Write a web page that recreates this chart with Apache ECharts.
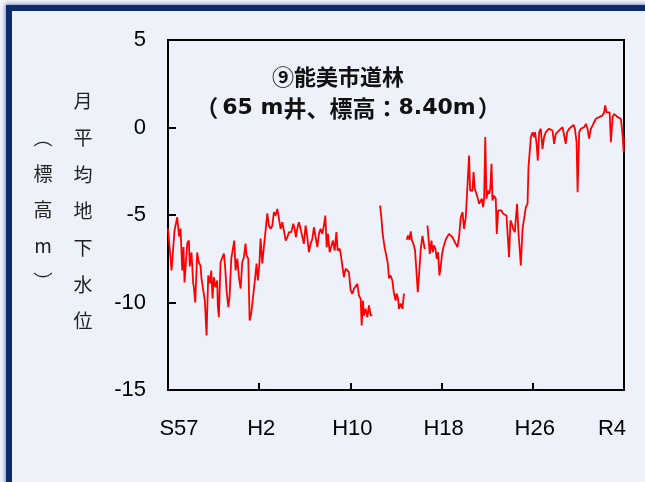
<!DOCTYPE html>
<html>
<head>
<meta charset="utf-8">
<script src="https://cdn.jsdelivr.net/npm/echarts@6/dist/echarts.min.js"></script>
<style>
  html, body { margin: 0; padding: 0; background: #f2f4fa; overflow: hidden; }
  #frame {
    position: absolute; left: 6px; top: 5px; width: 700px; height: 600px;
    border-left: 6px solid #0c2a6c; border-top: 6px solid #0c2a6c;
    background: #edf1fa;
    box-shadow: -1px -1px 4px rgba(30, 50, 140, 0.55);
  }
  #chart { position: absolute; left: 0; top: 0; width: 645px; height: 482px; }
</style>
</head>
<body>
<div id="frame"></div>
<div id="chart"></div>
<script>
// Monthly mean groundwater level, Nomi-shi Dorin well (decimal year, elevation m)
const years = [
  1982.00,1982.31,1982.57,1982.81,1982.97,1983.10,1983.25,1983.36,1983.45,1983.69,
  1983.83,1983.91,1984.06,1984.21,1984.27,1984.39,1984.56,1984.70,1984.85,1984.94,
  1985.09,1985.23,1985.38,1985.53,1985.67,1985.79,1985.91,1986.02,1986.17,1986.32,
  1986.37,1986.46,1986.61,1986.78,1986.90,1987.02,1987.14,1987.29,1987.40,1987.55,
  1987.72,1987.81,1987.93,1988.08,1988.22,1988.37,1988.51,1988.66,1988.80,1988.89,
  1989.04,1989.16,1989.30,1989.45,1989.62,1989.77,1989.88,1990.01,1990.12,1990.27,
  1990.41,1990.56,1990.71,1990.85,1991.00,1991.15,1991.29,1991.44,1991.59,1991.73,
  1991.88,1992.03,1992.17,1992.32,1992.47,1992.61,1992.82,1992.99,1993.11,1993.22,
  1993.34,1993.48,1993.63,1993.78,1993.92,1994.07,1994.22,1994.36,1994.51,1994.66,
  1994.80,1994.95,1995.10,1995.24,1995.39,1995.54,1995.68,1995.80,1995.92,1996.03,
  1996.18,1996.33,1996.47,1996.62,1996.77,1996.88,1997.06,1997.15,1997.29,1997.43,
  1997.58,1997.73,1997.87,1998.02,1998.17,1998.31,1998.46,1998.61,1998.75,1998.90,
  1998.99,1999.10,1999.19,1999.34,1999.49,1999.63,1999.78,1999.93,
  2000.30,
  2000.60,2000.70,2000.83,2001.01,2001.14,2001.27,2001.39,2001.53,2001.68,2001.82,
  2001.97,2002.06,2002.18,2002.26,2002.41,2002.56,2002.70,
  2002.82,
  2002.94,2003.05,2003.18,2003.29,2003.40,2003.53,2003.67,2003.79,2003.91,2004.02,
  2004.17,2004.32,2004.52,
  2004.64,
  2004.76,2004.87,2004.96,2005.11,2005.22,2005.34,2005.46,2005.57,2005.69,2005.81,
  2005.92,2006.04,2006.16,2006.28,2006.39,2006.51,2006.65,2006.80,2006.95,2007.09,
  2007.24,2007.39,2007.53,2007.68,2007.83,2007.97,2008.12,2008.27,2008.41,2008.50,
  2008.62,2008.71,2008.80,2008.91,2009.02,2009.15,2009.29,2009.44,2009.52,2009.64,
  2009.73,2009.83,2009.94,2010.05,2010.17,2010.27,2010.38,2010.46,2010.60,2010.75,
  2010.84,2010.96,2011.10,2011.25,2011.39,2011.54,2011.69,2011.81,2011.92,2012.04,
  2012.16,2012.27,2012.42,2012.51,2012.62,2012.75,2012.86,2012.95,2013.10,2013.24,
  2013.39,2013.54,2013.62,2013.74,2013.83,2013.98,2014.12,2014.20,2014.33,2014.44,
  2014.56,2014.70,2014.85,2014.99,2015.14,2015.29,2015.43,2015.58,2015.73,2015.87,
  2016.02,2016.17,2016.31,2016.46,2016.61,2016.75,2016.89,2017.01,2017.19,2017.34,
  2017.58,2017.69,2017.84,2017.93,2018.07,2018.22,2018.37,2018.51,2018.66,2018.80,
  2018.94,2019.09,2019.24,2019.38,2019.53,2019.68,2019.82,2019.97,2020.12,2020.26,
  2020.35,2020.47,2020.61,2020.74,2020.85,2021.00,2021.14,2021.29,2021.44,2021.58,
  2021.73,2021.88,2021.97,2021.99
];
const levels = [
  -5.77,-8.17,-5.89,-5.13,-6.23,-5.77,-8.17,-6.83,-8.86,-6.63,
  -6.46,-7.94,-7.14,-8.91,-9.14,-10.00,-7.14,-7.71,-7.89,-8.63,
  -8.63,-9.89,-11.89,-8.46,-8.91,-8.17,-9.77,-8.55,-9.14,-8.74,
  -10.17,-10.84,-7.70,-7.70,-7.20,-8.06,-9.31,-10.27,-9.70,-7.49,
  -7.49,-6.46,-8.17,-7.49,-8.55,-9.20,-7.70,-7.41,-6.63,-7.31,
  -7.49,-11.03,-10.63,-10.63,-8.74,-7.77,-8.74,-7.89,-6.34,-7.77,
  -6.84,-5.89,-4.90,-5.60,-5.79,-5.60,-4.84,-5.03,-4.65,-4.65,
  -5.79,-5.41,-5.89,-6.46,-6.27,-5.98,-5.98,-5.50,-5.79,-6.27,
  -5.79,-5.41,-5.79,-5.70,-6.65,-5.60,-6.27,-7.13,-6.65,-6.36,
  -5.70,-6.27,-6.84,-6.08,-5.79,-6.08,-5.60,-5.03,-6.84,-6.08,
  -7.13,-7.22,-6.46,-7.03,-5.98,-7.03,-6.93,-7.22,-7.89,-8.55,
  -8.07,-8.17,-8.27,-9.31,-9.50,-9.22,-9.22,-8.93,-9.60,-9.79,
  -11.31,-9.89,-10.74,-10.36,-10.84,-10.17,-10.74,-10.74,
  null,
  -4.46,-5.03,-6.08,-6.89,-6.89,-7.71,-8.62,-8.46,-8.74,-9.49,
  -9.89,-9.49,-9.77,-10.36,-10.06,-10.36,-9.49,
  null,
  -6.42,-6.17,-6.42,-5.93,-6.46,-6.65,-7.03,-8.17,-9.41,-8.46,
  -6.95,-6.19,-6.95,
  null,
  -5.60,-6.46,-7.22,-6.46,-7.13,-6.74,-6.93,-7.50,-7.13,-8.46,
  -7.98,-7.22,-6.84,-6.93,-6.36,-6.46,-6.08,-6.08,-6.27,-6.17,
  -6.65,-6.84,-6.27,-5.13,-4.84,-5.79,-5.13,-5.13,-1.60,-3.60,
  -3.50,-3.60,-2.55,-3.50,-3.70,-3.98,-4.36,-4.46,-4.07,-4.55,
  -4.07,-0.55,-4.07,-3.60,-3.79,-3.50,-2.07,-4.17,-3.89,-4.07,
  -6.08,-4.74,-4.65,-4.74,-4.93,-4.84,-5.03,-6.27,-7.41,-5.31,
  -5.50,-5.79,-5.98,-5.89,-4.36,-6.08,-7.03,-7.89,-5.79,-5.89,
  -4.55,-4.36,-2.27,-1.31,-0.55,-0.27,-0.55,-0.27,-0.93,-1.89,
  -0.27,-0.07,-1.22,-0.55,-0.27,-0.17,-0.07,-0.17,-0.17,-0.93,
  -0.36,-0.27,-0.17,-0.07,0.02,-0.07,-0.93,-0.27,-0.07,0.02,
  0.15,-0.07,-0.84,-3.70,-0.27,-0.07,-0.07,0.02,0.21,-0.07,
  -0.64,-0.07,0.11,0.30,0.50,0.40,0.59,0.50,0.69,0.87,
  1.26,0.87,0.97,0.87,-0.84,0.59,0.78,0.69,0.59,0.59,
  0.50,-0.46,-1.41,-0.55
];

// Axis ticks: years and their era labels
const xTickYears = [1982, 1990, 1998, 2006, 2014, 2022];
const xTickLabels = ['S57', 'H2', 'H10', 'H18', 'H26', 'R4'];
const yTicks = [-15, -10, -5, 0, 5];

const titleLine1 = '⑨能美市道林';
const titleLine2Parts = ['（', '65 m', '井、標高：', '8.40m', '）'];
const yNameInner = '月\n平\n均\n地\n下\n水\n位';
const yNameOuter = '︵\n標\n高\nm\n︶';

const seriesData = years.map((y, i) => [y, levels[i]]);

const chart = echarts.init(document.getElementById('chart'), null, { renderer: 'canvas' });

const cjk = '"Noto Sans CJK JP", "Noto Sans CJK SC", sans-serif';
const latin = '"Liberation Sans", Arial, sans-serif';
const wide = '"DejaVu Sans", sans-serif';

// second title line: brackets, CJK runs and number runs styled separately
const title2Rich = titleLine2Parts.map((p, i) => {
  if (i === 0) return '{lp|' + p + '}';
  if (i === titleLine2Parts.length - 1) return '{rp|' + p + '}';
  return (i % 2 === 1 ? '{n|' : '{c|') + p + '}';
}).join('');

chart.setOption({
  backgroundColor: 'transparent',
  animation: false,
  grid: {
    left: 168, top: 40, right: 21, bottom: 92,
    show: true, borderColor: '#000', borderWidth: 2, backgroundColor: 'transparent'
  },
  xAxis: {
    type: 'value',
    min: 1982, max: 2022, interval: 8,
    splitLine: { show: false },
    axisLine: { onZero: false, lineStyle: { color: '#000', width: 2 } },
    axisTick: { inside: true, length: 7, lineStyle: { color: '#000', width: 2 } },
    axisLabel: {
      margin: 28,
      color: '#000',
      fontFamily: latin,
      fontSize: 22,
      formatter: function (v) {
        const i = xTickYears.indexOf(Math.round(v));
        if (i < 0) return '';
        if (i === 0) return '{first|' + xTickLabels[i] + '}';
        if (i === xTickLabels.length - 1) return '{last|' + xTickLabels[i] + '}';
        return '{mid|' + xTickLabels[i] + '}';
      },
      rich: {
        first: { fontFamily: latin, fontSize: 22, color: '#000', padding: [0, 0, 0, 22] },
        mid: { fontFamily: latin, fontSize: 22, color: '#000', padding: [0, 0, 0, 4] },
        last: { fontFamily: latin, fontSize: 22, color: '#000', padding: [0, 24, 0, 0] }
      }
    }
  },
  yAxis: {
    type: 'value',
    min: yTicks[0], max: yTicks[yTicks.length - 1], interval: 5,
    splitLine: { show: false },
    axisLine: { show: true, onZero: false, lineStyle: { color: '#000', width: 2 } },
    axisTick: { show: true, inside: true, length: 8, lineStyle: { color: '#000', width: 2 } },
    axisLabel: { margin: 22, color: '#000', fontFamily: latin, fontSize: 22 }
  },
  graphic: [
    {
      type: 'text', x: 338, y: 77,
      style: {
        text: titleLine1, font: 'bold 22px ' + cjk, fill: '#111',
        align: 'center', verticalAlign: 'middle'
      }
    },
    {
      type: 'text', x: 348, y: 108,
      style: {
        text: title2Rich, fill: '#111', align: 'center', verticalAlign: 'middle',
        rich: {
          lp: { font: 'bold 23px ' + cjk, fill: '#111', padding: [0, 4, 0, 0] },
          rp: { font: 'bold 23px ' + cjk, fill: '#111', padding: [0, 0, 0, 2] },
          c: { font: 'bold 23px ' + cjk, fill: '#111' },
          n: { font: 'bold 22px ' + wide, fill: '#111' }
        }
      }
    },
    {
      type: 'text', x: 83, y: 211,
      style: {
        text: yNameInner, font: '19px ' + cjk, fill: '#222',
        align: 'center', verticalAlign: 'middle', lineHeight: 36.7
      }
    },
    {
      type: 'text', x: 43, y: 210,
      style: {
        text: yNameOuter, font: '19px ' + cjk, fill: '#222',
        align: 'center', verticalAlign: 'middle', lineHeight: 36
      }
    }
  ],
  series: [{
    type: 'line',
    data: seriesData,
    showSymbol: false,
    connectNulls: false,
    lineStyle: { color: '#ff0000', width: 1.8 },
    clip: true
  }]
});
</script>
</body>
</html>
